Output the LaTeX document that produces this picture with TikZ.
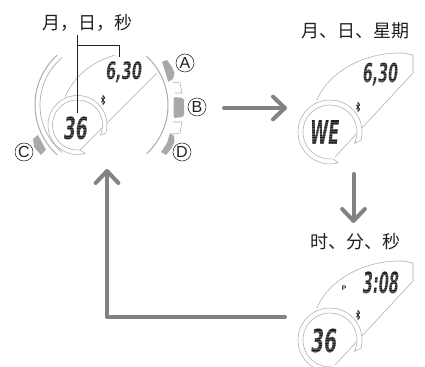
\documentclass[tikz,border=0pt]{standalone}
\usepackage{fontspec}
\usepackage{graphicx}
\usetikzlibrary{arrows.meta}
\setmainfont{Liberation Sans}
\newfontfamily\cjk{Noto Sans CJK SC}
\newfontfamily\lcdfont{DejaVu Sans}
\definecolor{arrowgray}{HTML}{808285}
\definecolor{bezel}{HTML}{A9ABAE}
\definecolor{btn}{HTML}{A7A9AC}
\definecolor{ink}{HTML}{231F20}
\tikzset{
  x=.75pt,y=-.75pt,
  flow/.style={draw=arrowgray,line width=3pt,line cap=round,line join=round,-{Straight Barb[length=9pt,width=17pt,line width=3pt,round]}},
  bezelline/.style={draw=bezel,line width=.75pt},
  thinline/.style={draw=bezel,line width=.4pt},
  leader/.style={draw=ink,line width=.55pt},
  button/.style={fill=btn,draw=none},
  title/.style={font=\cjk\fontsize{13.5pt}{14pt}\selectfont,text=ink,inner sep=0pt},
  key/.style={circle,draw=ink,line width=.4pt,inner sep=0pt,minimum size=13.5pt,font=\fontsize{12pt}{13pt}\selectfont,text=ink},
  lcdtext/.style={inner sep=0pt,text=ink,font=\lcdfont\bfseries},
}
\newcommand{\lcdread}[6]{%
  \pgfmathsetmacro{\lw}{(#4-#2)*.75}\pgfmathsetmacro{\lh}{(#5-#3)*.75}%
  \begin{scope}[shift={({(#2+#4)/2},{(#3+#5)/2})},xslant=.1]
    \node[lcdtext,transform shape] (#1) at (0,0) {\resizebox*{\lw pt}{\lh pt}{#6}};
  \end{scope}
  \pgfmathsetmacro{\nn}{int((#5-#3)/1.7)}%
  \foreach \k in {1,...,\nn}{\draw[white,opacity=.22,line width=.3pt] (#2-2,#3+\k*1.7) -- (#4+2,#3+\k*1.7);}
}
\newcommand{\subring}[8]{%
  \filldraw[thinline,fill=white] plot[domain=#5:#6,samples=70] ({#1+#3*cos(\x)},{#2+#3*sin(\x)})
    -- plot[domain=#7:#8,samples=70] ({#1+#4*cos(\x)},{#2+#4*sin(\x)}) -- cycle;
}
\newcommand{\btglyph}[2]{%
  \draw[ink,line width=.5pt,line join=miter] (#1-1.8,#2-2.2) -- (#1+1.8,#2+2.2) -- (#1,#2+4.5) -- (#1,#2-4.5) -- (#1+1.8,#2-2.2) -- (#1-1.8,#2+2.2);
}
\begin{document}
\begin{tikzpicture}
\useasboundingbox (0,0) rectangle (425,367);
\clip (0,0) rectangle (425,367);

% ---- main watch
\draw[bezelline] plot[domain=-48:48,samples=40] ({102+66*cos(\x)},{105+66*sin(\x)});
\draw[bezelline] plot[domain=132:228,samples=40] ({102+67*cos(\x)},{105+67*sin(\x)});
\draw[thinline,line width=.5pt] plot[domain=130:230,samples=40] ({102+62*cos(\x)},{105+62*sin(\x)});
\fill[button] (162,62) -- (167,60) -- (172,67) -- (174.5,73) -- (173,79) -- (168,82) -- (166,74) -- cycle;
\fill[button,rounded corners=1.5pt] (173.5,97) -- (184,98) -- (184,117) -- (173.5,118) -- cycle;
\fill[button] (170,133) -- (174,136) -- (174.5,142) -- (171,149) -- (166,155) -- (161,152) -- (167,143) -- cycle;
\fill[button] (33,139) -- (38,135) -- (46,150) -- (41,155) -- (34,147) -- cycle;
\draw[thinline] (172,82) -- (180,83) -- (182,93) -- (175,93);
\draw[thinline] (173,122) -- (182,122) -- (180,133) -- (172,134);
\draw[thinline] (65,97) .. controls (75,75) and (92,62) .. (115,55);
\draw[thinline] (157,73) -- (80,150);
\subring{77.5}{125}{29.5}{25}{16}{-285}{-275}{24}

% ---- second display
\draw[thinline] (317,100) .. controls (327,75) and (360,52) .. (403,53) -- (413,55) -- (413,73) -- (335,157);
\subring{330}{132}{32}{27}{15}{-285}{-277}{25}

% ---- third display
\draw[thinline] (317,308) .. controls (327,283) and (360,260) .. (403,261) -- (413,263) -- (413,281) -- (335,365);
\subring{330}{340}{32}{27}{15}{-285}{-277}{25}

% ---- read-outs
\lcdread{mdate}{106}{62}{142}{83}{6,30}
\lcdread{msec}{64}{117}{88}{140}{36}
\lcdread{wdate}{363}{63}{398}{86}{6,30}
\lcdread{wday}{311}{121}{340}{145}{WE}
\lcdread{ttime}{363}{272}{399}{294}{3:08}
\lcdread{tsec}{312}{329}{338}{353}{36}
\node[inner sep=0pt,text=ink,font=\bfseries\fontsize{5pt}{6pt}\selectfont] (pm) at (344,288) {P};
\btglyph{103}{100}
\btglyph{358}{107}
\btglyph{358}{315}

% ---- callout
\coordinate (lt) at (77,35);
\coordinate (lb) at (77,113);
\coordinate (lj) at (77,45);
\coordinate (lc) at (119,45);
\coordinate (le) at (119,57);
\draw[leader] (lt) -- (lb);
\draw[leader] (lj) -- (lc) -- (le);

% ---- titles
\node[title] (t1) at (87.5,23) {月，日，秒};
\node[title] (t2) at (355,31) {月、日、星期};
\node[title] (t3) at (355,242) {时、分、秒};

% ---- keys
\node[key] (ka) at (185,63) {A};
\node[key] (kb) at (197,107) {B};
\node[key] (kc) at (24,152) {C};
\node[key] (kd) at (182,152) {D};

% ---- arrows
\coordinate (a1s) at (224,108);
\coordinate (a1e) at (287,108);
\coordinate (a2s) at (353.5,174);
\coordinate (a2e) at (353.5,223);
\coordinate (a3s) at (285,317);
\coordinate (a3c) at (107,317);
\coordinate (a3e) at (107,169);
\draw[flow] (a1s) -- (a1e);
\draw[flow] (a2s) -- (a2e);
\draw[flow] (a3s) -- (a3c) -- (a3e);
\end{tikzpicture}
\end{document}
